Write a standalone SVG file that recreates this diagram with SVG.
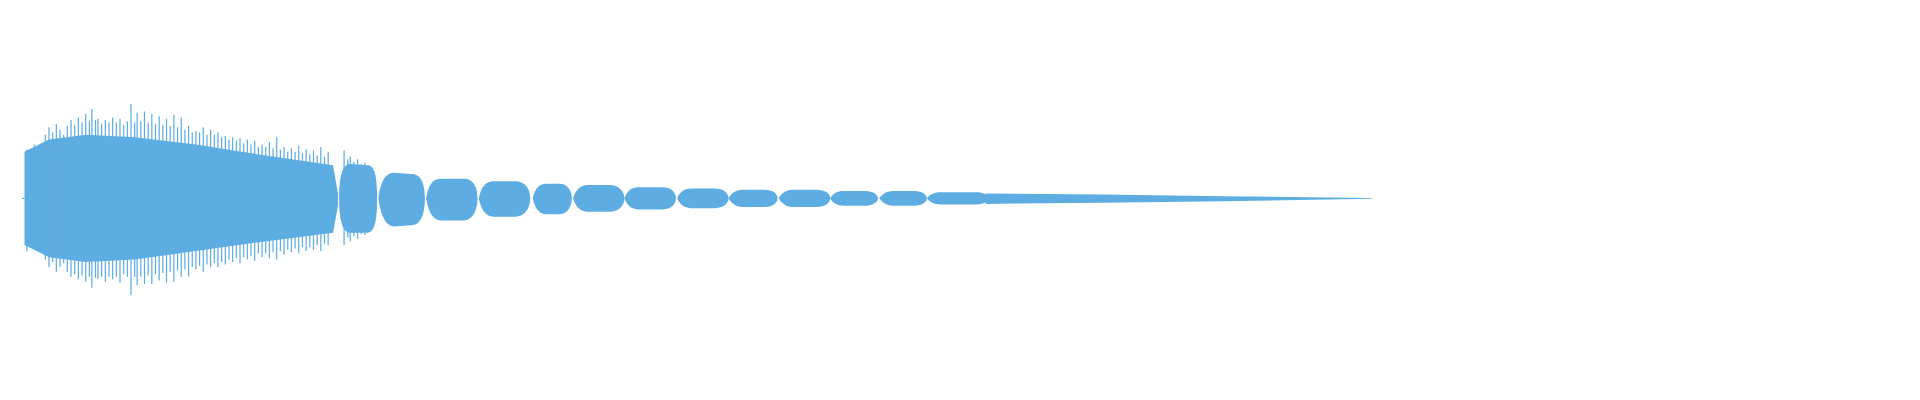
<svg xmlns="http://www.w3.org/2000/svg" width="1920" height="400" viewBox="0 0 1920 400">
<style>.w{fill:#5dade2}.s{stroke:#5dade2;stroke-width:1;fill:none}</style>
<rect width="1920" height="400" fill="#fff"/>
<g id="waveform" transform="scale(1.22449)">
<path class="w" d="M20,124 L40,114 L70,110 L110,112 L160,118 L210,126 L272,135 L276,158 L276,168 L272,190 L210,198 L160,205 L110,212 L70,214 L40,210 L20,200 Z"/>
<path class="s" d="M22,122V205M25,126V200M28,118V203M31,125V201M34,128V198M37,110V212M40,104V218M43,108V214M46,101V222M49,106V218M52,110V215M55,103V222M58,98V226M61,102V224M64,96V228M67,100V225M70,93V230M73,99V226M75,89V235M78,98V227M80,97V228M83,101V226M86,98V230M89,100V226M92,96V228M95,100V226M98,97V231M101,102V224M104,99V226M107,85V241M110,100V226M112,92V233M115,99V226M118,91V232M121,100V225M124,93V232M127,101V224M130,95V229M133,102V223M136,97V231M139,103V222M142,94V230M145,104V221M148,96V226M151,106V220M154,103V226M157,108V218M160,107V220M163,108V217M166,104V222M169,110V216M172,106V218M175,110V215M178,108V218M181,112V214M184,111V216M187,114V212M190,112V214M193,115V211M196,113V215M199,117V210M202,114V212M205,118V209M208,115V213M211,120V207M214,118V210M217,120V207M220,116V211M223,121V206M226,112V212M229,122V205M232,120V208M235,124V204M238,121V206M241,124V203M244,119V207M247,125V202M250,122V205M253,126V202M256,123V204M259,127V200M262,120V205M265,128V199M268,124V200M281,123V200M284,130V194M286,128V197M289,132V193M292,130V195M295,134V191M298,133V192M18,162H20"/>
<path class="w" d="M277,162C277,140 281,134 286,134L300,135C305,135 308,140 308,162C308,184 305,190 300,190L286,190C281,190 277,184 277,162Z
M309,162C311,146 316,141 322,141L336,142C343,142 347,148 347,162C347,176 343,184 336,184L322,185C316,185 311,178 309,162Z
M348,162C350,150 354,146 360,146L379,146C386,146 390,152 390,162C390,172 386,180 379,180L360,180C354,180 350,174 348,162Z
M391,162C393,152 397,148 403,148L421,148C428,148 433,153 433,162C433,171 428,177 421,177L403,177C397,177 393,172 391,162Z
M435,162C437,153 441,150 446,150L457,150C463,150 467,155 467,162C467,169 463,175 457,175L446,175C441,175 437,171 435,162Z
M468,162C470,155 474,151 480,151L498,151C505,151 510,156 510,162C510,168 505,173 498,173L480,173C474,173 470,169 468,162Z
M510,162C512,156 516,153 521,153L541,153C548,153 552,157 552,162C552,167 548,171 541,171L521,171C516,171 512,168 510,162Z
M553,162C555,157 559,154 564,154L584,154C591,154 595,158 595,162C595,166 591,170 584,170L564,170C559,170 555,167 553,162Z
M595,162C597,158 601,155 606,155L625,155C631,155 635,158 635,162C635,166 631,169 625,169L606,169C601,169 597,166 595,162Z
M636,162C638,158 642,155 647,155L667,155C674,155 678,158 678,162C678,166 674,169 667,169L647,169C642,169 638,166 636,162Z
M678,162C680,158 684,156 689,156L707,156C713,156 717,159 717,162C717,165 713,168 707,168L689,168C684,168 680,166 678,162Z
M718,162C720,159 724,156 729,156L747,156C753,156 757,159 757,162C757,165 753,168 747,168L729,168C724,168 720,165 718,162Z
M757,162C759,159 763,157 768,157L797,157C803,157 807,159 807,162C807,165 803,167 797,167L768,167C763,167 759,165 757,162Z
M805,158L900,158.8L1000,160.2L1120,161.8L1120,162.4L1000,164.3L900,165.6L805,166.5Z"/>
</g>
</svg>
